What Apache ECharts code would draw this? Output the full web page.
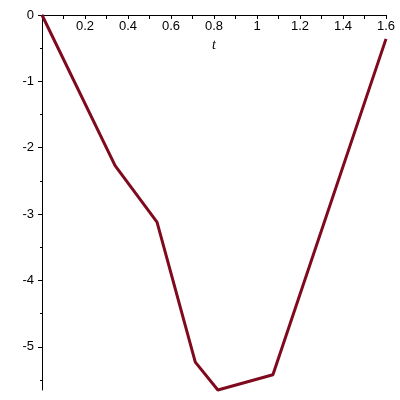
<!DOCTYPE html>
<html>
<head>
<meta charset="utf-8">
<script src="https://cdn.jsdelivr.net/npm/echarts@6/dist/echarts.min.js"></script>
<style>html,body{margin:0;padding:0;background:#fff}#c{width:400px;height:400px}</style>
</head>
<body>
<div id="c"></div>
<script>
var tValues = [0, 0.34, 0.535, 0.713, 0.818, 1.074, 1.6];
var yValues = [0, -2.27, -3.12, -5.23, -5.65, -5.42, -0.36];
var xTickInterval = 0.2;
var yTickInterval = 1;

var points = tValues.map(function (t, i) { return [t, yValues[i]]; });
var font = 'Liberation Sans, Arial, sans-serif';
var chart = echarts.init(document.getElementById('c'), null, {renderer: 'canvas'});
chart.setOption({
  animation: false,
  backgroundColor: '#fff',
  grid: [
    {left: 42, right: 14, top: 15, bottom: 10, outerBoundsMode: 'none', containLabel: false},
    {left: 42, right: 14, top: 15, height: 398.2, outerBoundsMode: 'none', containLabel: false}
  ],
  xAxis: [
    {
      gridIndex: 0, type: 'value', position: 'top', min: 0, max: 1.6, interval: xTickInterval,
      name: 't', nameLocation: 'middle', nameGap: -37, nameMoveOverlap: false,
      nameTextStyle: {fontFamily: 'Liberation Serif, serif', fontStyle: 'italic', fontSize: 14, color: '#000'},
      axisLine: {show: true, onZero: false, lineStyle: {color: '#000', width: 1}},
      axisTick: {show: true, inside: true, length: 4, lineStyle: {color: '#000'}},
      minorTick: {show: true, splitNumber: 2, length: 4, lineStyle: {color: '#000'}},
      axisLabel: {show: true, inside: true, margin: 5, showMinLabel: false, color: '#000', fontSize: 13, fontFamily: font},
      splitLine: {show: false}
    },
    {
      gridIndex: 1, type: 'value', min: 0, max: 1.6, show: false
    }
  ],
  yAxis: [
    {
      gridIndex: 0, type: 'value', min: -5.65, max: 0,
      axisLine: {show: true, onZero: false, lineStyle: {color: '#000', width: 1}},
      axisTick: {show: false}, axisLabel: {show: false}, splitLine: {show: false}
    },
    {
      gridIndex: 1, type: 'value', min: -6, max: 0, interval: yTickInterval,
      axisLine: {show: false},
      axisTick: {show: true, length: 4, lineStyle: {color: '#000'}},
      minorTick: {show: true, splitNumber: 2, length: 2, lineStyle: {color: '#000'}},
      axisLabel: {show: true, margin: 8, color: '#000', fontSize: 13, fontFamily: font},
      splitLine: {show: false}
    }
  ],
  series: [
    {
      type: 'line', xAxisIndex: 0, yAxisIndex: 0, data: points,
      symbol: 'none', clip: false,
      lineStyle: {color: '#7f0a1e', width: 3}
    }
  ]
});
</script>
</body>
</html>
